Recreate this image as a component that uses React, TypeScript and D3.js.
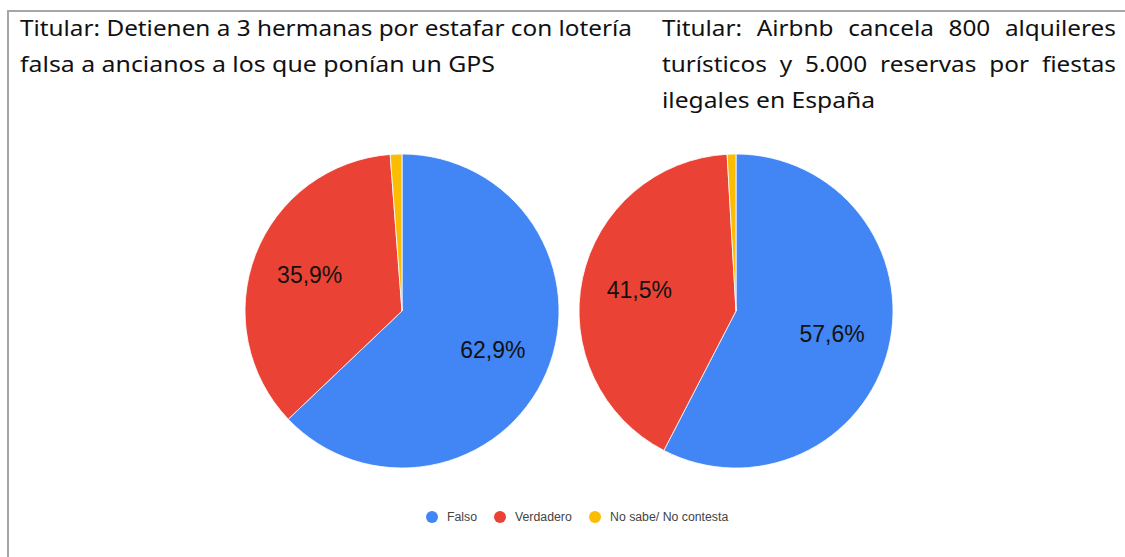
import React from "react";
import * as d3 from "d3";

const categories = ["Falso", "Verdadero", "No sabe/ No contesta"];
const colors = ["#4285F4", "#EA4335", "#FBBC04"];
const valuesChart1 = [62.9, 35.9, 1.2];
const valuesChart2 = [57.6, 41.5, 0.9];

const title1Lines = [
  "Titular: Detienen a 3 hermanas por estafar con lotería",
  "falsa a ancianos a los que ponían un GPS",
];
const title2Lines = [
  "Titular: Airbnb cancela 800 alquileres",
  "turísticos y 5.000 reservas por fiestas",
  "ilegales en España",
];
const title1Widths = [612, 475];
const title2Widths = [454, 454, 213];
const title2Justified = [true, true, false];

const W = 1125;
const H = 557;
const TITLE_FONT = "'Noto Sans', sans-serif";
const TITLE_SIZE = 21.5;

let ctx: CanvasRenderingContext2D | null = null;
function measure(s: string) {
  if (!ctx && typeof document !== "undefined") {
    ctx = document.createElement("canvas").getContext("2d");
  }
  if (!ctx) return s.length * TITLE_SIZE * 0.5;
  ctx.font = `${TITLE_SIZE}px 'Noto Sans'`;
  return ctx.measureText(s).width;
}

function fmt(v: number) {
  return v.toFixed(1).replace(".", ",") + "%";
}

function Pie({ values, cx, cy, r }: { values: number[]; cx: number; cy: number; r: number }) {
  const pie = d3.pie<number>().sort(null).value((d) => d);
  const arcs = pie(values);
  const arc = d3.arc<d3.PieArcDatum<number>>().innerRadius(0).outerRadius(r);
  const labelArc = d3.arc<d3.PieArcDatum<number>>().innerRadius(r * 0.63).outerRadius(r * 0.63);
  return (
    <g transform={`translate(${cx},${cy})`}>
      {arcs.map((a, i) => (
        <path key={i} d={arc(a) || ""} fill={colors[i]} stroke="#ffffff" strokeWidth={0.8} />
      ))}
      {arcs.map((a, i) => {
        if (a.data < 5) return null;
        const [x, y] = labelArc.centroid(a);
        return (
          <text
            key={"l" + i}
            x={x}
            y={y}
            textAnchor="middle"
            dominantBaseline="central"
            fontFamily="'Liberation Sans', Arial, sans-serif"
            fontSize={23}
            fill="#111"
          >
            {fmt(a.data)}
          </text>
        );
      })}
    </g>
  );
}

function JustifiedLine({ text, x, y, width, scale }: { text: string; x: number; y: number; width: number; scale: number }) {
  const words = text.split(" ");
  const widths = words.map((w) => measure(w) * scale);
  const sum = widths.reduce((s, v) => s + v, 0);
  const gap = words.length > 1 ? (width - sum) / (words.length - 1) : 0;
  let cx = x;
  return (
    <g>
      {words.map((w, i) => {
        const px = cx;
        cx += widths[i] + gap;
        return (
          <text
            key={i}
            x={px}
            y={y}
            fontFamily={TITLE_FONT}
            fontSize={TITLE_SIZE}
            fill="#111"
            textLength={widths[i]}
            lengthAdjust="spacingAndGlyphs"
          >
            {w}
          </text>
        );
      })}
    </g>
  );
}

export default function App() {
  const legendX = [432, 500, 595];
  const scale = title1Widths[0] / measure(title1Lines[0]);
  return (
    <svg width={W} height={H} style={{ position: "absolute", left: 0, top: 0, background: "#fff" }}>
      <rect x={0} y={0} width={W} height={H} fill="#fff" />
      <line x1={7} y1={11} x2={W} y2={11} stroke="#a9a5a6" strokeWidth={2} />
      <line x1={8} y1={10} x2={8} y2={H} stroke="#a9a5a6" strokeWidth={2} />
      {title1Lines.map((t, i) => (
        <text
          key={"t1" + i}
          x={20}
          y={35.5 + i * 36}
          fontFamily={TITLE_FONT}
          fontSize={TITLE_SIZE}
          fill="#111"
          textLength={title1Widths[i]}
          lengthAdjust="spacingAndGlyphs"
        >
          {t}
        </text>
      ))}
      {title2Lines.map((t, i) =>
        title2Justified[i] ? (
          <JustifiedLine key={"t2" + i} text={t} x={662} y={35.5 + i * 36} width={title2Widths[i]} scale={scale} />
        ) : (
          <text
            key={"t2" + i}
            x={662}
            y={35.5 + i * 36}
            fontFamily={TITLE_FONT}
            fontSize={TITLE_SIZE}
            fill="#111"
            textLength={title2Widths[i]}
            lengthAdjust="spacingAndGlyphs"
          >
            {t}
          </text>
        )
      )}
      <Pie values={valuesChart1} cx={402} cy={311} r={157} />
      <Pie values={valuesChart2} cx={736} cy={311} r={157} />
      {categories.map((c, i) => (
        <g key={"lg" + i}>
          <circle cx={legendX[i]} cy={517} r={6} fill={colors[i]} />
          <text
            x={legendX[i] + 15}
            y={517}
            dominantBaseline="central"
            fontFamily="'Liberation Sans', Arial, sans-serif"
            fontSize={12.3}
            fill="#444"
          >
            {c}
          </text>
        </g>
      ))}
    </svg>
  );
}
